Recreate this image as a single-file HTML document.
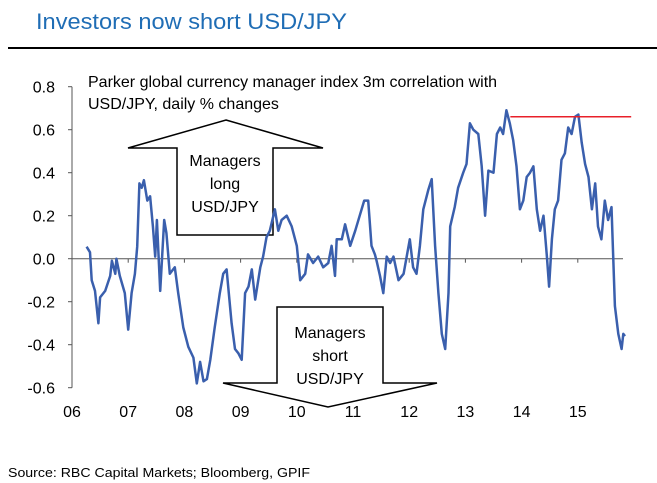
<!DOCTYPE html>
<html><head><meta charset="utf-8"><style>
html,body{margin:0;padding:0;background:#fff;}
svg{display:block;font-family:"Liberation Sans",Arial,sans-serif;}
</style></head><body>
<svg id="chart" width="657" height="483" viewBox="0 0 657 483">
<text x="36" y="29" font-size="22" fill="#1F6DB5" textLength="311" lengthAdjust="spacingAndGlyphs">Investors now short USD/JPY</text>
<line x1="8" y1="48" x2="657" y2="48" stroke="#000" stroke-width="2"/>
<text x="88" y="87" font-size="16" fill="#000">Parker global currency manager index 3m correlation with</text>
<text x="88" y="109" font-size="16" fill="#000">USD/JPY, daily % changes</text>
<g id="axes"></g>
<polygon points="226,120 323,148 273,148 273,235 177,235 177,148 128,148" fill="#fff" stroke="#000" stroke-width="1.5"/>
<text x="225" y="166" font-size="16" text-anchor="middle">Managers</text>
<text x="225" y="189" font-size="16" text-anchor="middle">long</text>
<text x="225" y="212" font-size="16" text-anchor="middle">USD/JPY</text>
<polygon points="277,307 383,307 383,383 437,383 328,407 223,383 277,383" fill="#fff" stroke="#000" stroke-width="1.5"/>
<text x="330" y="338" font-size="16" text-anchor="middle">Managers</text>
<text x="330" y="361" font-size="16" text-anchor="middle">short</text>
<text x="330" y="384" font-size="16" text-anchor="middle">USD/JPY</text>
<g id="series"></g>
<text x="8" y="477" font-size="13" fill="#000" textLength="302" lengthAdjust="spacingAndGlyphs">Source: RBC Capital Markets; Bloomberg, GPIF</text>
</svg>
<script>
const yTicks = [0.8, 0.6, 0.4, 0.2, 0.0, -0.2, -0.4, -0.6];
const yTickLabels = ["0.8","0.6","0.4","0.2","0.0","-0.2","-0.4","-0.6"];
const xYears = [2006,2007,2008,2009,2010,2011,2012,2013,2014,2015];
const xLabels = ["06","07","08","09","10","11","12","13","14","15"];
const dates = [2006.26,2006.32,2006.35,2006.41,2006.47,2006.50,2006.59,2006.68,2006.71,2006.77,2006.79,2006.85,2006.94,2007.00,2007.06,2007.12,2007.16,2007.20,2007.24,2007.28,2007.34,2007.39,2007.44,2007.48,2007.51,2007.57,2007.64,2007.68,2007.74,2007.83,2007.89,2007.98,2008.07,2008.16,2008.22,2008.28,2008.34,2008.40,2008.46,2008.54,2008.63,2008.69,2008.75,2008.78,2008.84,2008.90,2008.96,2009.02,2009.08,2009.14,2009.20,2009.26,2009.35,2009.40,2009.46,2009.52,2009.61,2009.67,2009.73,2009.82,2009.91,2010.00,2010.06,2010.15,2010.20,2010.29,2010.38,2010.47,2010.56,2010.62,2010.68,2010.71,2010.80,2010.86,2010.95,2011.04,2011.12,2011.20,2011.27,2011.33,2011.39,2011.42,2011.48,2011.54,2011.60,2011.66,2011.72,2011.81,2011.90,2012.01,2012.07,2012.13,2012.19,2012.25,2012.34,2012.40,2012.46,2012.52,2012.58,2012.64,2012.70,2012.73,2012.81,2012.87,2012.96,2013.02,2013.08,2013.14,2013.23,2013.29,2013.35,2013.41,2013.50,2013.56,2013.62,2013.67,2013.73,2013.79,2013.85,2013.91,2013.97,2014.03,2014.09,2014.15,2014.21,2014.27,2014.33,2014.39,2014.45,2014.49,2014.54,2014.59,2014.65,2014.71,2014.77,2014.83,2014.89,2014.95,2015.01,2015.07,2015.13,2015.19,2015.25,2015.31,2015.36,2015.42,2015.48,2015.54,2015.60,2015.63,2015.66,2015.72,2015.78,2015.81,2015.84];
const values = [0.056,0.03,-0.10,-0.15,-0.30,-0.18,-0.15,-0.08,-0.01,-0.07,0.00,-0.08,-0.16,-0.33,-0.16,-0.07,0.056,0.35,0.33,0.365,0.27,0.29,0.15,0.01,0.18,-0.15,0.18,0.12,-0.07,-0.04,-0.16,-0.32,-0.41,-0.46,-0.58,-0.48,-0.57,-0.56,-0.47,-0.32,-0.16,-0.07,-0.05,-0.13,-0.30,-0.42,-0.44,-0.47,-0.16,-0.13,-0.05,-0.19,-0.04,0.01,0.10,0.13,0.23,0.13,0.18,0.20,0.15,0.06,-0.10,-0.07,0.02,-0.02,0.01,-0.04,-0.02,0.06,-0.08,0.09,0.09,0.16,0.06,0.13,0.20,0.27,0.27,0.06,0.02,-0.01,-0.08,-0.16,0.01,-0.02,0.01,-0.10,-0.07,0.09,-0.04,-0.07,0.06,0.23,0.32,0.37,0.06,-0.16,-0.35,-0.42,-0.16,0.15,0.24,0.33,0.40,0.44,0.63,0.60,0.58,0.43,0.20,0.41,0.40,0.58,0.61,0.58,0.69,0.63,0.55,0.43,0.23,0.27,0.38,0.40,0.43,0.23,0.13,0.20,0.01,-0.13,0.09,0.23,0.27,0.46,0.49,0.61,0.58,0.66,0.67,0.54,0.44,0.38,0.23,0.35,0.15,0.09,0.27,0.18,0.24,0.01,-0.22,-0.35,-0.42,-0.35,-0.36];
const refLevel = [0.66];
const refStart = [2013.80];
const refEnd = [2015.95];

const NS = "http://www.w3.org/2000/svg";
const X0 = 72, XPY = 56.2, Y0 = 258.7, YPU = 215;
function xs(t){ return X0 + (t - 2006) * XPY; }
function ys(v){ return Y0 - v * YPU; }
function mk(tag, attrs, parent){ const e = document.createElementNS(NS, tag); for (const k in attrs) e.setAttribute(k, attrs[k]); parent.appendChild(e); return e; }

const axes = document.getElementById('axes');
const yAxis = mk('line', {x1: X0, y1: ys(0.8), x2: X0, y2: ys(-0.6), stroke: '#555', 'stroke-width': 1}, axes);


yTicks.forEach((v, i) => {
  const tk = mk('line', {x1: X0 - 4, y1: ys(v), x2: X0, y2: ys(v), stroke: '#555', 'stroke-width': 1}, axes);
  
  
  const lb = mk('text', {x: 55, y: ys(v) + 6, 'font-size': 16, 'text-anchor': 'end'}, axes);
  lb.textContent = yTickLabels[i];
  
  
});
const xAxis = mk('line', {x1: X0, y1: ys(0), x2: 623, y2: ys(0), stroke: '#555', 'stroke-width': 1}, axes);


xYears.forEach((yr, i) => {
  const tk = mk('line', {x1: xs(yr), y1: ys(0), x2: xs(yr), y2: ys(0) + 4, stroke: '#555', 'stroke-width': 1}, axes);
  
  
  const lb = mk('text', {x: xs(yr), y: 417, 'font-size': 16, 'text-anchor': 'middle'}, axes);
  lb.textContent = xLabels[i];
  
  
});

const series = document.getElementById('series');
const d = dates.map((t, i) => (i ? 'L' : 'M') + xs(t).toFixed(1) + ',' + ys(values[i]).toFixed(1)).join(' ');
const line = mk('path', {d: d, fill: 'none', stroke: '#3A5FAD', 'stroke-width': 2.5, 'stroke-linejoin': 'round'}, series);


const ref = mk('line', {x1: xs(refStart[0]), y1: ys(refLevel[0]), x2: xs(refEnd[0]), y2: ys(refLevel[0]), stroke: '#E8202A', 'stroke-width': 1.5}, series);


</script>
</body></html>
